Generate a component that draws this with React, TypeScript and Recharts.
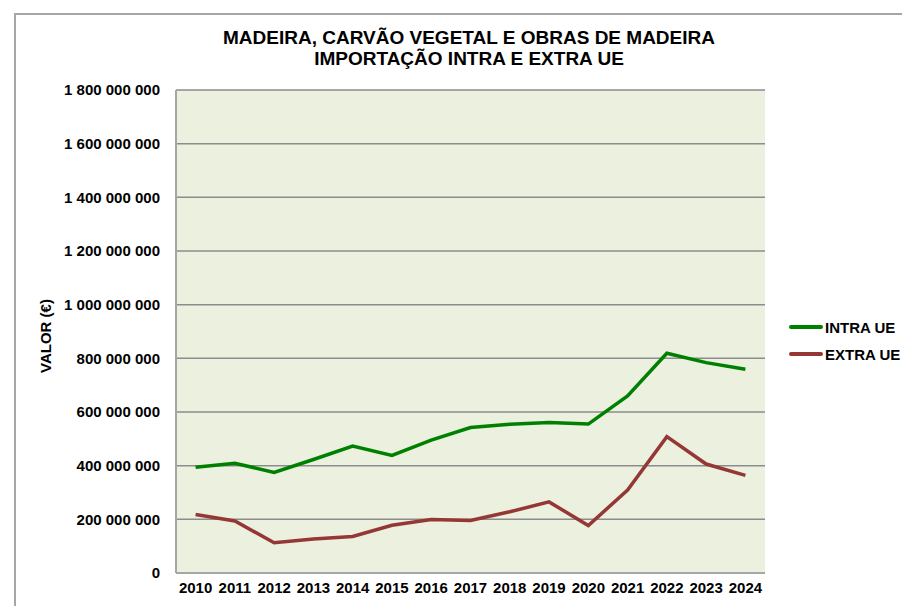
import { LineChart, Line, XAxis, YAxis, CartesianGrid } from "recharts";

const years = ["2010", "2011", "2012", "2013", "2014", "2015", "2016", "2017", "2018", "2019", "2020", "2021", "2022", "2023", "2024"];

// valores em euros
const intraUE = [394e6, 409e6, 375e6, 423e6, 473e6, 438e6, 495e6, 542e6, 554e6, 561e6, 555e6, 660e6, 819e6, 784e6, 759e6];
const extraUE = [218e6, 194e6, 113e6, 127e6, 136e6, 178e6, 199e6, 196e6, 228e6, 265e6, 177e6, 309e6, 508e6, 406e6, 364e6];

const yTicks = [0, 200e6, 400e6, 600e6, 800e6, 1000e6, 1200e6, 1400e6, 1600e6, 1800e6];

const data = years.map((y, i) => ({ year: y, intra: intraUE[i], extra: extraUE[i] }));

const GREEN = "#008000";
const RED = "#953735";
const FONT = "'Liberation Sans', Arial, sans-serif";

const fmt = (v: number) => v.toLocaleString("en-US").replace(/,/g, " ");

export default function App() {
  return (
    <div style={{ position: "absolute", left: 0, top: 0, width: 902, height: 606, overflow: "hidden", background: "#fff", fontFamily: FONT }}>
      {/* moldura do gráfico */}
      <div style={{ position: "absolute", left: 14, top: 13, width: 900, height: 600, borderTop: "2px solid #A6A6A6", borderLeft: "2px solid #A6A6A6" }} />

      <div style={{ position: "absolute", left: 169, top: 27, width: 600, textAlign: "center", fontWeight: "bold", fontSize: 19, lineHeight: "21px", color: "#000" }}>
        MADEIRA, CARVÃO VEGETAL E OBRAS DE MADEIRA
        <br />
        IMPORTAÇÃO INTRA E EXTRA UE
      </div>

      <div style={{ position: "absolute", left: 45, top: 336, transform: "translate(-50%, -50%) rotate(-90deg)", whiteSpace: "nowrap", fontWeight: "bold", fontSize: 15 }}>
        VALOR (€)
      </div>

      <div style={{ position: "absolute", left: 0, top: 0 }}>
        <LineChart width={902} height={606} data={data} margin={{ top: 90, right: 137, bottom: 0, left: 0 }}>
          <CartesianGrid vertical={false} fill="#EBF0DF" stroke="#8C8C8C" strokeWidth={1.5} />
          <XAxis
            dataKey="year"
            height={33}
            padding={{ left: 19.6, right: 19.6 }}
            tickLine={false}
            tickSize={0}
            tickMargin={9}
            axisLine={{ stroke: "#A6A6A6", strokeWidth: 2 }}
            tick={{ fill: "#000", fontSize: 15, fontWeight: "bold", fontFamily: FONT }}
            interval={0}
          />
          <YAxis
            width={176}
            domain={[0, 1800e6]}
            ticks={yTicks}
            tickFormatter={fmt}
            tickLine={false}
            tickSize={0}
            tickMargin={16}
            axisLine={{ stroke: "#A6A6A6", strokeWidth: 2 }}
            tick={{ fill: "#000", fontSize: 15, fontWeight: "bold", fontFamily: FONT }}
          />
          <Line dataKey="intra" stroke={GREEN} strokeWidth={3.5} dot={false} isAnimationActive={false} />
          <Line dataKey="extra" stroke={RED} strokeWidth={3.5} dot={false} isAnimationActive={false} />
        </LineChart>
      </div>

      {[
        { label: "INTRA UE", color: GREEN, y: 327 },
        { label: "EXTRA UE", color: RED, y: 354 },
      ].map((d) => (
        <div key={d.label} style={{ position: "absolute", left: 789, top: d.y - 9, height: 18, display: "flex", alignItems: "center", whiteSpace: "nowrap" }}>
          <div style={{ width: 34, height: 4, borderRadius: 2, background: d.color, marginRight: 2 }} />
          <span style={{ fontWeight: "bold", fontSize: 15 }}>{d.label}</span>
        </div>
      ))}
    </div>
  );
}
